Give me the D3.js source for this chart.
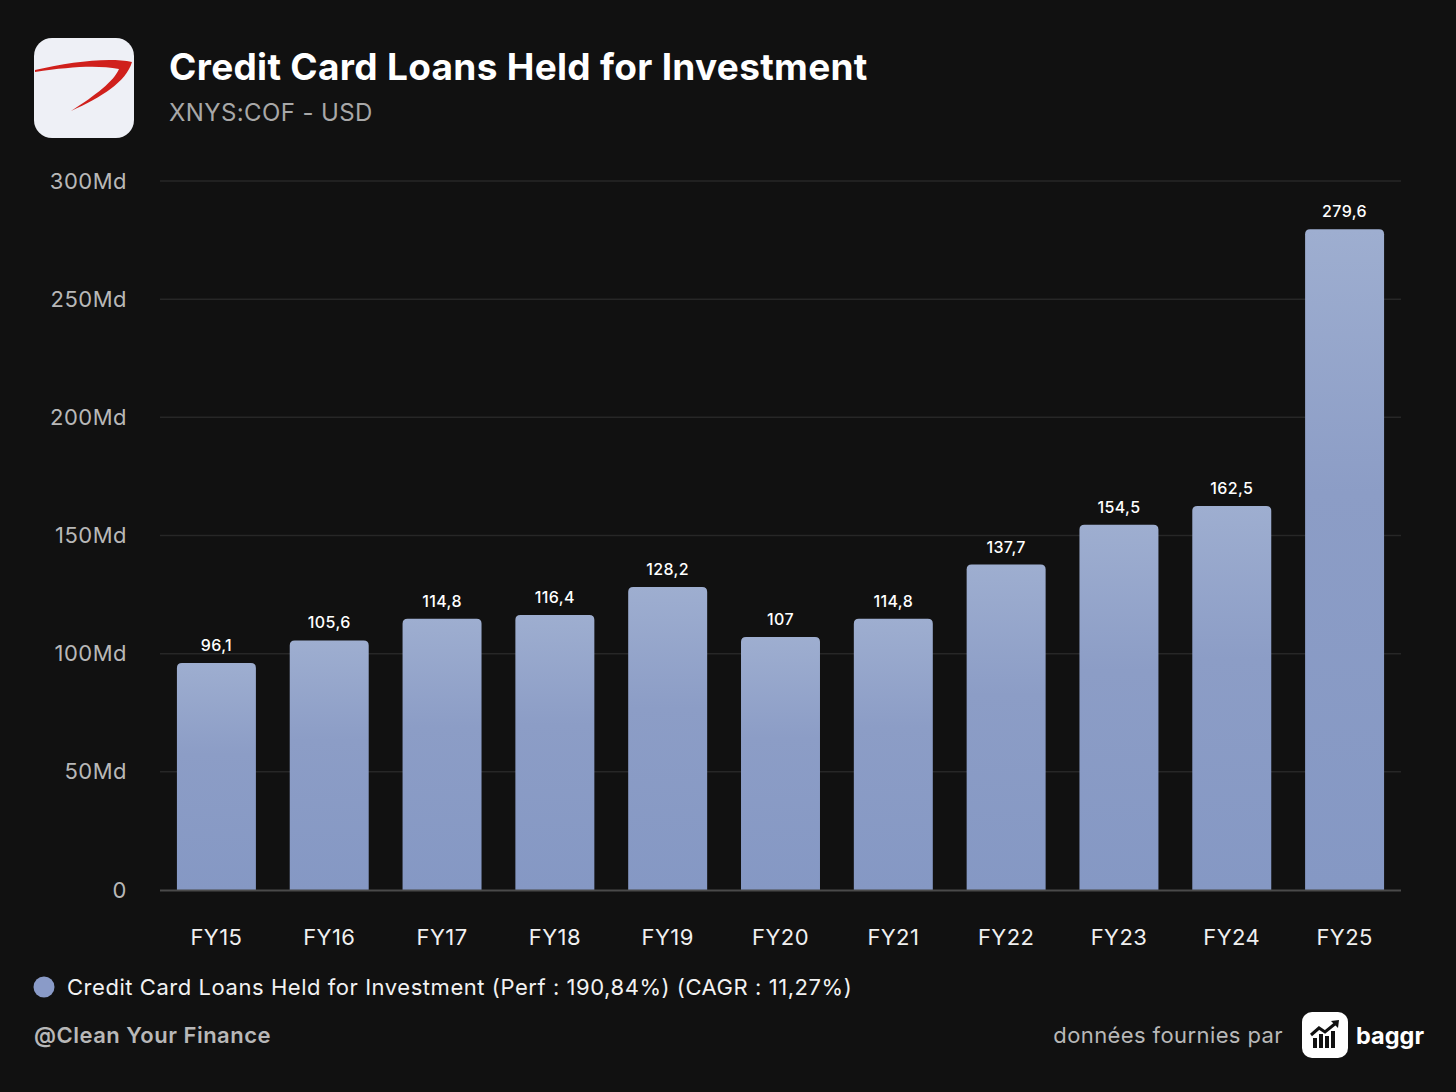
<!DOCTYPE html>
<html><head><meta charset="utf-8">
<script src="https://cdn.jsdelivr.net/npm/d3@7"></script>
<style>
html,body{margin:0;padding:0;background:#111111;}
svg{display:block;font-family:Inter,"Noto Sans",sans-serif;}
</style></head><body>
<svg id="c" width="1456" height="1092"></svg>
<script>
const categories = ["FY15","FY16","FY17","FY18","FY19","FY20","FY21","FY22","FY23","FY24","FY25"];
const values = [96.1,105.6,114.8,116.4,128.2,107,114.8,137.7,154.5,162.5,279.6];
const valueLabels = ["96,1","105,6","114,8","116,4","128,2","107","114,8","137,7","154,5","162,5","279,6"];
const yTicks = [0,50,100,150,200,250,300];
const yTickLabels = ["0","50Md","100Md","150Md","200Md","250Md","300Md"];

const svg = d3.select("#c");
svg.append("rect").attr("width",1456).attr("height",1092).attr("fill","#111111");

const defs = svg.append("defs");
const g = defs.append("linearGradient").attr("id","bg").attr("x1",0).attr("y1",0).attr("x2",0).attr("y2",1);
g.append("stop").attr("offset","0%").attr("stop-color","#9eaed0");
g.append("stop").attr("offset","40%").attr("stop-color","#8c9dc6");
g.append("stop").attr("offset","100%").attr("stop-color","#8598c4");

// logo
svg.append("rect").attr("x",34).attr("y",38).attr("width",100).attr("height",100).attr("rx",18).attr("fill","#eef0f6");
svg.append("path").attr("d","M35,70 C70,62 108,57 132,62 C126,82 102,97 71,111 C96,95 114,81 119,69 C96,65 70,67 35,72 Z").attr("fill","#d0201c");

svg.append("text").attr("x",169).attr("y",80).attr("fill","#ffffff").attr("font-size",37).attr("font-weight",700).attr("letter-spacing",0.3).text("Credit Card Loans Held for Investment");
svg.append("text").attr("x",169).attr("y",121).attr("fill","#a8a8a8").attr("font-size",24).attr("letter-spacing",0.4).text("XNYS:COF - USD");

const x = d3.scaleBand().domain(categories).range([160,1401]).paddingInner(0.3).paddingOuter(0.15);
const y = d3.scaleLinear().domain([0,300]).range([890,181]);

// grid
svg.append("g").selectAll("line").data(yTicks.filter(d=>d>0)).join("line")
  .attr("x1",160).attr("x2",1401).attr("y1",d=>y(d)).attr("y2",d=>y(d))
  .attr("stroke","#272727").attr("stroke-width",1.5);

// y axis labels
const yAxis = d3.axisLeft(y).tickValues(yTicks).tickFormat((d,i)=>yTickLabels[i]).tickSize(0).tickPadding(0);
const ya = svg.append("g").attr("transform","translate(127,0)").call(yAxis);
ya.select(".domain").remove();
ya.selectAll("text").attr("fill","#b8b8b8").attr("font-size",22).attr("letter-spacing",0.5).attr("font-family","Inter,'Noto Sans',sans-serif");

// bars with rounded tops
const r = 5;
svg.append("g").selectAll("path").data(values).join("path")
  .attr("d",(d,i)=>{
    const x0 = x(categories[i]), w = x.bandwidth(), y0 = y(d), y1 = y(0);
    return `M${x0},${y1} L${x0},${y0+r} Q${x0},${y0} ${x0+r},${y0} L${x0+w-r},${y0} Q${x0+w},${y0} ${x0+w},${y0+r} L${x0+w},${y1} Z`;
  })
  .attr("fill","url(#bg)");

// baseline
svg.append("line").attr("x1",160).attr("x2",1401).attr("y1",y(0)+0.5).attr("y2",y(0)+0.5).attr("stroke","#4a4a4a").attr("stroke-width",2);

// value labels
svg.append("g").selectAll("text").data(values).join("text")
  .attr("x",(d,i)=>x(categories[i])+x.bandwidth()/2).attr("y",d=>y(d)-12)
  .attr("text-anchor","middle").attr("fill","#ffffff").attr("font-size",16).attr("font-weight",500).attr("letter-spacing",0.4)
  .text((d,i)=>valueLabels[i]);

// x axis
const xAxis = d3.axisBottom(x).tickSize(0).tickPadding(0);
const xa = svg.append("g").attr("transform","translate(0,929)").call(xAxis);
xa.select(".domain").remove();
xa.selectAll("text").attr("fill","#f0f0f0").attr("font-size",22).attr("letter-spacing",0.4).attr("font-family","Inter,'Noto Sans',sans-serif");

// legend
svg.append("circle").attr("cx",44).attr("cy",987).attr("r",10.5).attr("fill","#8a9bc8");
svg.append("text").attr("x",67).attr("y",995).attr("fill","#f2f2f2").attr("font-size",22).attr("letter-spacing",0.55).text("Credit Card Loans Held for Investment (Perf : 190,84%) (CAGR : 11,27%)");

// footer
svg.append("text").attr("x",34).attr("y",1043).attr("fill","#b8b8b8").attr("font-size",22).attr("font-weight",600).attr("letter-spacing",0.5).text("@Clean Your Finance");
svg.append("text").attr("x",1283).attr("y",1043).attr("text-anchor","end").attr("fill","#b8b8b8").attr("font-size",22).attr("letter-spacing",0.4).text("données fournies par");
svg.append("rect").attr("x",1302).attr("y",1012).attr("width",46).attr("height",46).attr("rx",10).attr("fill","#ffffff");
// baggr icon bars
const ib = [[1313,1038,4,10],[1319,1034,4,14],[1325,1036,4,12],[1331,1031,4,17]];
ib.forEach(b=>svg.append("rect").attr("x",b[0]).attr("y",b[1]).attr("width",b[2]).attr("height",b[3]).attr("fill","#111"));
svg.append("path").attr("d","M1311,1035 L1319,1028 L1325,1032 L1336,1023").attr("fill","none").attr("stroke","#111").attr("stroke-width",3);
svg.append("path").attr("d","M1331,1021 L1339,1020 L1338,1028 Z").attr("fill","#111");
svg.append("text").attr("x",1356).attr("y",1044).attr("fill","#ffffff").attr("font-size",23.5).attr("font-weight",700).text("baggr");
</script>
</body></html>
